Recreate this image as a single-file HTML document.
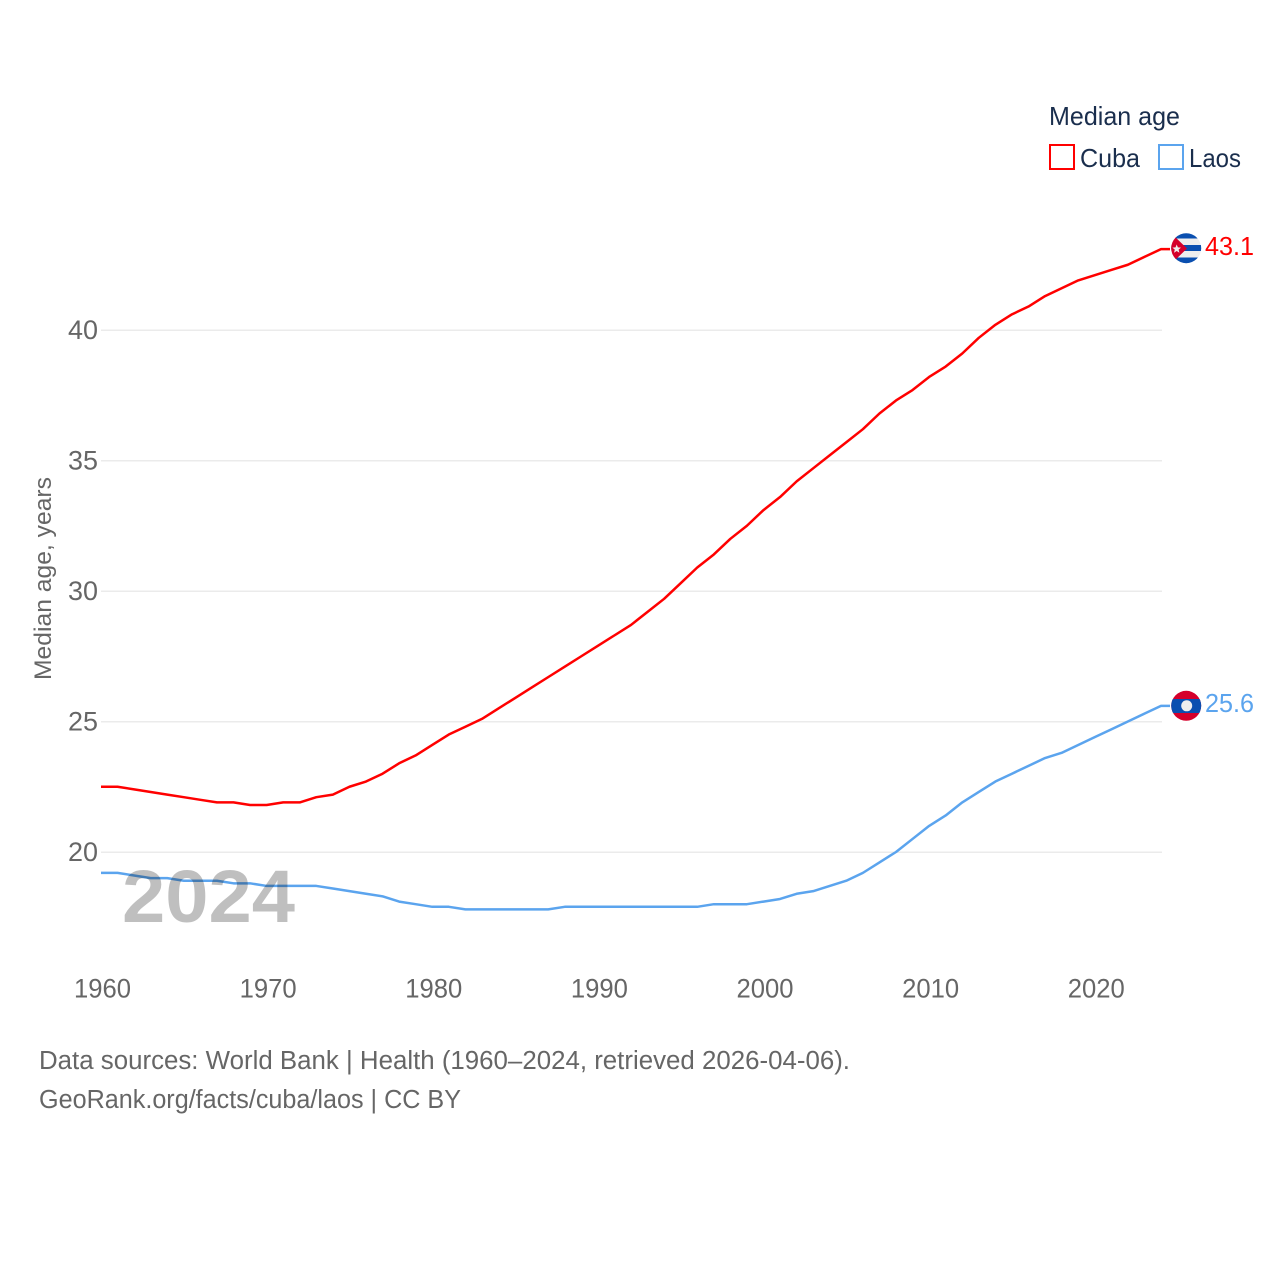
<!DOCTYPE html>
<html lang="en">
<head>
<meta charset="utf-8">
<title>Median age: Cuba and Laos</title>
<style>
html,body{margin:0;padding:0;background:#fff;}
svg{display:block;font-family:"Liberation Sans",sans-serif;}
</style>
</head>
<body>
<svg id="chart" xmlns="http://www.w3.org/2000/svg" width="1280" height="1280" viewBox="0 0 1280 1280">
  <rect width="1280" height="1280" fill="#ffffff"/>
  <g id="grid"></g>
  <g id="yticks"></g>
  <g id="xticks"></g>
  <text transform="translate(51,680) rotate(-90)" font-size="24.5" fill="#666666" textLength="203" lengthAdjust="spacingAndGlyphs">Median age, years</text>
  <g id="series"></g>
  <text x="122" y="922" font-size="74" font-weight="700" fill="#000000" fill-opacity="0.25" textLength="173" lengthAdjust="spacingAndGlyphs">2024</text>

  <g>
    <text x="1049" y="125" font-size="26" fill="#1a2e4d" textLength="131" lengthAdjust="spacingAndGlyphs">Median age</text>
    <g>
      <rect x="1050" y="145" width="24" height="24" fill="#ffffff" stroke="#ff0000" stroke-width="2"/>
      <text x="1080" y="167" font-size="26" fill="#1a2e4d" textLength="60" lengthAdjust="spacingAndGlyphs">Cuba</text>
    </g>
    <g>
      <rect x="1159" y="145" width="24" height="24" fill="#ffffff" stroke="#5ba4ee" stroke-width="2"/>
      <text x="1189" y="167" font-size="26" fill="#1a2e4d" textLength="52" lengthAdjust="spacingAndGlyphs">Laos</text>
    </g>
  </g>

  <defs>
    <clipPath id="flagCubaClip"><circle cx="1186.200" cy="248.200" r="15"/></clipPath>
    <clipPath id="flagLaosClip"><circle cx="1186.200" cy="705.800" r="15"/></clipPath>
  </defs>
  <g clip-path="url(#flagCubaClip)">
    <rect x="1171" y="233" width="31" height="31" fill="#eeeeee"/>
    <rect x="1171" y="233" width="31" height="5.500" fill="#0a4fb0"/>
    <rect x="1171" y="245" width="31" height="6" fill="#0a4fb0"/>
    <rect x="1171" y="257.500" width="31" height="6" fill="#0a4fb0"/>
    <polygon points="1171,233 1187,248.500 1171,264" fill="#d5002b"/>
    <polygon points="1176.700,244.500 1177.900,247.400 1181,247.600 1178.600,249.600 1179.400,252.700 1176.700,251 1174,252.700 1174.800,249.600 1172.400,247.600 1175.500,247.400" fill="#eeeeee"/>
  </g>
  <text id="labelCuba" x="1205" y="255" font-size="26" fill="#ff0000" textLength="49" lengthAdjust="spacingAndGlyphs"></text>
  <g clip-path="url(#flagLaosClip)">
    <rect x="1171" y="690" width="31" height="31" fill="#d5002b"/>
    <rect x="1171" y="699" width="31" height="14" fill="#0a4fb0"/>
    <circle cx="1186.700" cy="705.800" r="5.500" fill="#eeeeee"/>
  </g>
  <text id="labelLaos" x="1205" y="712" font-size="26" fill="#5ba4ee" textLength="49" lengthAdjust="spacingAndGlyphs"></text>

  <text x="39" y="1069" font-size="25.5" fill="#666666" textLength="811" lengthAdjust="spacingAndGlyphs">Data sources: World Bank | Health (1960–2024, retrieved 2026-04-06).</text>
  <text x="39" y="1108" font-size="25.5" fill="#666666" textLength="422" lengthAdjust="spacingAndGlyphs">GeoRank.org/facts/cuba/laos | CC BY</text>
</svg>
<script>
const years = [1960,1961,1962,1963,1964,1965,1966,1967,1968,1969,1970,1971,1972,1973,1974,1975,1976,1977,1978,1979,1980,1981,1982,1983,1984,1985,1986,1987,1988,1989,1990,1991,1992,1993,1994,1995,1996,1997,1998,1999,2000,2001,2002,2003,2004,2005,2006,2007,2008,2009,2010,2011,2012,2013,2014,2015,2016,2017,2018,2019,2020,2021,2022,2023,2024];
const cubaValues = [22.5,22.5,22.4,22.3,22.2,22.1,22.0,21.9,21.9,21.8,21.8,21.9,21.9,22.1,22.2,22.5,22.7,23.0,23.4,23.7,24.1,24.5,24.8,25.1,25.5,25.9,26.3,26.7,27.1,27.5,27.9,28.3,28.7,29.2,29.7,30.3,30.9,31.4,32.0,32.5,33.1,33.6,34.2,34.7,35.2,35.7,36.2,36.8,37.3,37.7,38.2,38.6,39.1,39.7,40.2,40.6,40.9,41.3,41.6,41.9,42.1,42.3,42.5,42.8,43.1];
const laosValues = [19.2,19.2,19.1,19.0,19.0,18.9,18.9,18.9,18.8,18.8,18.7,18.7,18.7,18.7,18.6,18.5,18.4,18.3,18.1,18.0,17.9,17.9,17.8,17.8,17.8,17.8,17.8,17.8,17.9,17.9,17.9,17.9,17.9,17.9,17.9,17.9,17.9,18.0,18.0,18.0,18.1,18.2,18.4,18.5,18.7,18.9,19.2,19.6,20.0,20.5,21.0,21.4,21.9,22.3,22.7,23.0,23.3,23.6,23.8,24.1,24.4,24.7,25.0,25.3,25.6];
const yTickValues = [20,25,30,35,40];
const xTickValues = [1960,1970,1980,1990,2000,2010,2020];

const SVGNS = 'http://www.w3.org/2000/svg';
function xScale(year){ return 101 + (year - 1960) * (1161 - 101) / (2024 - 1960); }
function yScale(v){ return 852 - (v - 20) * (852 - 330) / (40 - 20); }

const grid = document.getElementById('grid');
const yticks = document.getElementById('yticks');
const xticks = document.getElementById('xticks');
const seriesGroup = document.getElementById('series');

yTickValues.forEach(function(v){
  const line = document.createElementNS(SVGNS, 'line');
  
  
  line.setAttribute('x1', xScale(1960));
  line.setAttribute('x2', xScale(2024) + 1);
  line.setAttribute('y1', yScale(v) + 0.25);
  line.setAttribute('y2', yScale(v) + 0.25);
  line.setAttribute('stroke', '#ebebeb');
  line.setAttribute('stroke-width', '1.500');
  grid.appendChild(line);

  const label = document.createElementNS(SVGNS, 'text');
  
  
  label.setAttribute('x', 68);
  label.setAttribute('y', yScale(v) + 9);
  label.setAttribute('font-size', '26.500');
  label.setAttribute('fill', '#666666');
  label.setAttribute('textLength', '30');
  label.setAttribute('lengthAdjust', 'spacingAndGlyphs');
  label.textContent = v;
  yticks.appendChild(label);
});

xTickValues.forEach(function(y){
  const label = document.createElementNS(SVGNS, 'text');
  
  
  label.setAttribute('x', xScale(y) - 27);
  label.setAttribute('y', 997.5);
  label.setAttribute('font-size', '26.500');
  label.setAttribute('fill', '#666666');
  label.setAttribute('textLength', '57');
  label.setAttribute('lengthAdjust', 'spacingAndGlyphs');
  label.textContent = y;
  xticks.appendChild(label);
});

function linePoints(values){
  const pts = values.map(function(v, i){ return xScale(years[i]).toFixed(2) + ',' + yScale(v).toFixed(2); });
  const last = values[values.length - 1];
  pts.push('1170,' + yScale(last).toFixed(2));
  return pts.join(' ');
}

const cubaLine = document.createElementNS(SVGNS, 'polyline');


cubaLine.setAttribute('points', linePoints(cubaValues));
cubaLine.setAttribute('fill', 'none');
cubaLine.setAttribute('stroke', '#ff0000');
cubaLine.setAttribute('stroke-width', '2.500');
cubaLine.setAttribute('stroke-linejoin', 'round');
seriesGroup.appendChild(cubaLine);

const laosLine = document.createElementNS(SVGNS, 'polyline');


laosLine.setAttribute('points', linePoints(laosValues));
laosLine.setAttribute('fill', 'none');
laosLine.setAttribute('stroke', '#5ba4ee');
laosLine.setAttribute('stroke-width', '2.500');
laosLine.setAttribute('stroke-linejoin', 'round');
seriesGroup.appendChild(laosLine);

document.getElementById('labelCuba').textContent = cubaValues[cubaValues.length - 1].toFixed(1);
document.getElementById('labelLaos').textContent = laosValues[laosValues.length - 1].toFixed(1);
</script>
</body>
</html>
